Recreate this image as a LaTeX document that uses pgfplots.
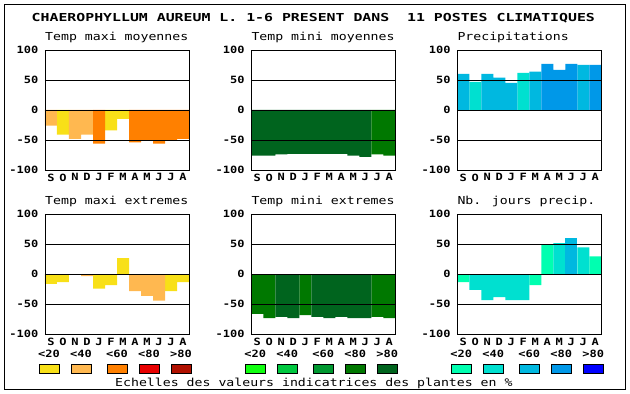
\documentclass[border=0pt]{standalone}
\usepackage{pgfplots}
\pgfplotsset{compat=1.18}
\usepackage{fontspec}
\setmainfont{DejaVu Sans Mono}
\newfontfamily\ttlfont[FakeStretch=1.2]{DejaVu Sans Mono}
\newfontfamily\bigfont[FakeStretch=1.35]{DejaVu Sans Mono}
\newfontfamily\tickfont[FakeStretch=1.2]{DejaVu Sans Mono}
\definecolor{Y1}{HTML}{F8E018}
\definecolor{Y2}{HTML}{FFB850}
\definecolor{Y3}{HTML}{FF8000}
\definecolor{Y4}{HTML}{E80000}
\definecolor{Y5}{HTML}{B01000}
\definecolor{G1}{HTML}{10FF10}
\definecolor{G2}{HTML}{00C840}
\definecolor{G3}{HTML}{009830}
\definecolor{G4}{HTML}{007800}
\definecolor{G5}{HTML}{00641E}
\definecolor{B1}{HTML}{00FFB0}
\definecolor{B2}{HTML}{00E0D0}
\definecolor{B3}{HTML}{00B8E0}
\definecolor{B4}{HTML}{0098E8}
\definecolor{B5}{HTML}{0000FF}
\pgfplotsset{panel/.style={
  width=144pt,height=120pt,scale only axis,
  xmin=-0.5,xmax=11.5,ymin=-100,ymax=100,
  ytick={-100,-50,0,50,100},
  yticklabels={-100,-50,0,50,100},
  xtick={0,...,11},
  xticklabels={S,O,N,D,J,F,M,A,M,J,J,A},
  major tick length=0pt,
  ymajorgrids, major grid style={black,line width=0.9pt},
  axis line style={black,line width=0.9pt},
  axis on top,
  ybar, bar width=12pt, bar shift=0pt,
  every axis plot/.append style={draw=none,bar shift=0pt,bar width=12pt},
  yticklabel style={font=\fontsize{10}{10}\tickfont\bfseries,inner sep=0pt,anchor=east,xshift=-6.5pt},
  xticklabel style={font=\fontsize{10}{10}\tickfont\bfseries,inner sep=0pt,anchor=north,yshift=-3.5pt},
  anchor=south west,
}}
\newcommand\legrow[6]{%
  \foreach \o/\c/\l in {-6/#2/{<20},26/#3/{<40},62/#4/{<60},94/#5/{<80},126/#6/{>80}} {
    \draw[fill=\c,line width=0.8pt] ({#1+\o},21) rectangle ({#1+\o+20},30);
    \node[font=\fontsize{10}{10}\tickfont\bfseries,inner sep=0pt] at ({#1+\o+10},40) {\l};
  }}
\begin{document}
\begin{tikzpicture}[x=1pt,y=1pt]
\useasboundingbox (0,0) rectangle (630,394);
\coordinate (P1) at (45pt,224pt);
\coordinate (P2) at (251.3pt,224pt);
\coordinate (P3) at (457.3pt,224pt);
\coordinate (P4) at (45pt,59.7pt);
\coordinate (P5) at (251.3pt,59.7pt);
\coordinate (P6) at (457.3pt,59.7pt);
\draw[line width=1.1pt] (4.5,389.5) rectangle (625.5,4.5);
\node[font=\fontsize{11}{11}\bigfont\bfseries,anchor=base west,inner sep=0pt] at (31.5,372.7)
  {CHAEROPHYLLUM AUREUM L. 1-6 PRESENT DANS\ \ 11 POSTES CLIMATIQUES};
% panel titles
\node[font=\fontsize{11}{11}\ttlfont,anchor=base west,inner sep=0pt] at (45,353.3) {Temp maxi moyennes};
\node[font=\fontsize{11}{11}\ttlfont,anchor=base west,inner sep=0pt] at (251.3,353.3) {Temp mini moyennes};
\node[font=\fontsize{11}{11}\ttlfont,anchor=base west,inner sep=0pt] at (457.3,353.3) {Precipitations};
\node[font=\fontsize{11}{11}\ttlfont,anchor=base west,inner sep=0pt] at (45,189) {Temp maxi extremes};
\node[font=\fontsize{11}{11}\ttlfont,anchor=base west,inner sep=0pt] at (251.3,189) {Temp mini extremes};
\node[font=\fontsize{11}{11}\ttlfont,anchor=base west,inner sep=0pt] at (457.3,189) {Nb. jours precip.};
% Panel 1
\begin{axis}[panel,at={(P1)}]
\addplot[fill=Y1] coordinates {(1,-41) (5,-34) (6,-15)};
\addplot[fill=Y2] coordinates {(0,-26) (2,-48) (3,-41)};
\addplot[fill=Y3] coordinates {(4,-56) (7,-54) (8,-50) (9,-56) (10,-50) (11,-48)};
\end{axis}
% Panel 2
\begin{axis}[panel,at={(P2)}]
\addplot[fill=G5] coordinates {(0,-76) (1,-76) (2,-74) (3,-73) (4,-73) (5,-73) (6,-73) (7,-73) (8,-76) (9,-78)};
\addplot[fill=G4] coordinates {(10,-74) (11,-76)};
\end{axis}
% Panel 3
\begin{axis}[panel,at={(P3)}]
\addplot[fill=B2] coordinates {(1,47) (5,62)};
\addplot[fill=B3] coordinates {(0,60) (2,60) (3,54) (4,45) (6,64) (10,75)};
\addplot[fill=B4] coordinates {(7,77) (8,67) (9,77) (11,75)};
\end{axis}
% Panel 4
\begin{axis}[panel,at={(P4)}]
\addplot[fill=Y1] coordinates {(0,-16) (1,-13) (4,-24) (5,-18) (6,27) (10,-28) (11,-13)};
\addplot[fill=Y2] coordinates {(3,-3) (7,-28) (8,-36) (9,-44)};
\end{axis}
% Panel 5
\begin{axis}[panel,at={(P5)}]
\addplot[fill=G4] coordinates {(0,-66) (1,-73) (4,-68) (10,-71) (11,-73)};
\addplot[fill=G5] coordinates {(2,-71) (3,-73) (5,-71) (6,-73) (7,-71) (8,-73) (9,-73)};
\end{axis}
% Panel 6
\begin{axis}[panel,at={(P6)}]
\addplot[fill=B1] coordinates {(0,-13) (6,-18) (7,49) (11,30)};
\addplot[fill=B2] coordinates {(1,-26) (2,-43) (3,-38) (4,-43) (5,-43) (8,52) (10,45)};
\addplot[fill=B3] coordinates {(9,60)};
\end{axis}
% legends
\legrow{45}{Y1}{Y2}{Y3}{Y4}{Y5}
\legrow{251.3}{G1}{G2}{G3}{G4}{G5}
\legrow{457.3}{B1}{B2}{B3}{B4}{B5}
\node[font=\fontsize{11}{11}\ttlfont,anchor=base west,inner sep=0pt] at (115,7.3) {Echelles des valeurs indicatrices des plantes en \%};
\end{tikzpicture}
\end{document}
